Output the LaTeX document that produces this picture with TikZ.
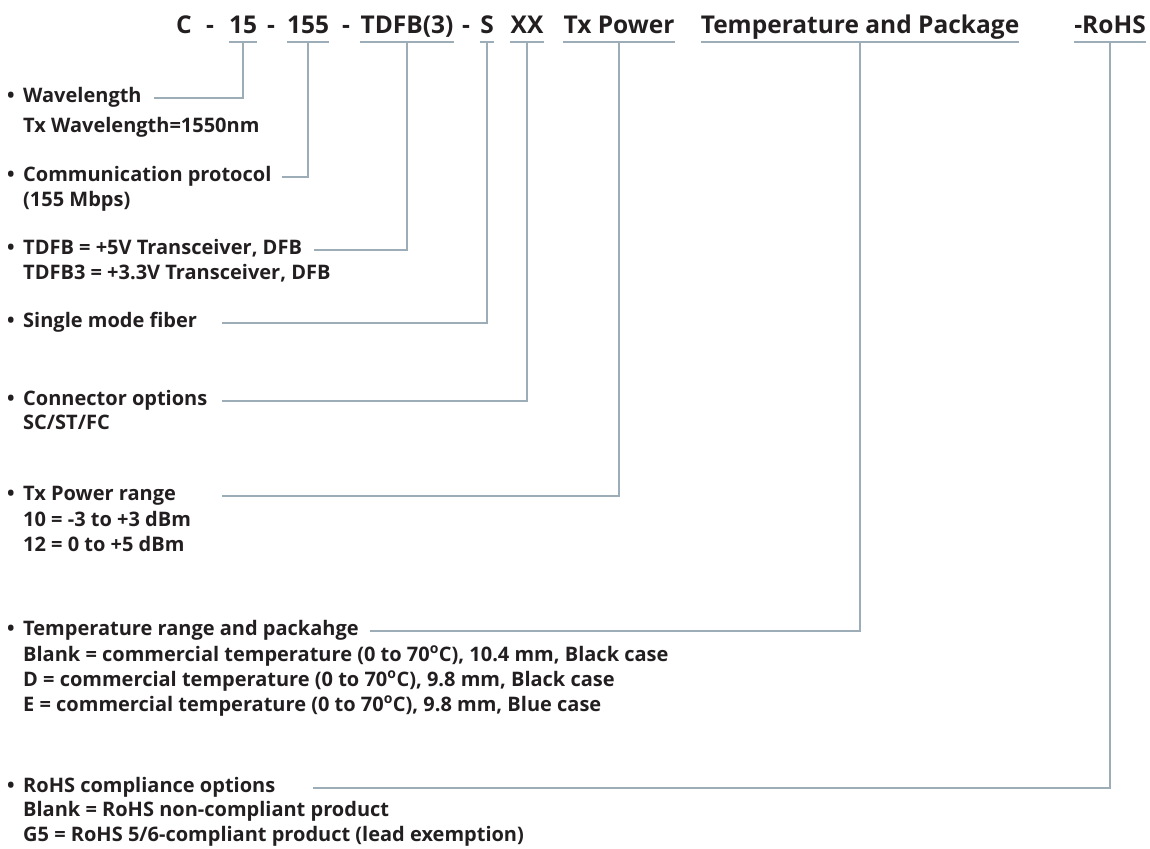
\documentclass[tikz,border=0pt]{standalone}
\usepackage{fontspec}
\setmainfont{Open Sans}
\usetikzlibrary{positioning}
\definecolor{ink}{HTML}{231F20}
\definecolor{leadgray}{HTML}{9DADB8}

\begin{document}
\begin{tikzpicture}[x=1pt,y=-1pt,
    code/.style={inner sep=0pt,anchor=base,text=ink,
        font=\fontsize{24.5}{28}\selectfont\bfseries},
    item/.style={inner sep=0pt,anchor=west,text=ink,text height=14pt,text depth=5pt,
        font=\fontsize{20}{24}\selectfont\bfseries},
    detail/.style={item},
    lead/.style={draw=leadgray,line width=1.4pt}]
\useasboundingbox (0,0) rectangle (1150,848);

% part number
\node[code] (hC) at (184,34) {C};
\node[code] (hd1) at (210,34) {-};
\node[code] (h15) at (243,34) {15};
\node[code] (hd2) at (271,34) {-};
\node[code] (h155) at (308,34) {155};
\node[code] (hd3) at (346,34) {-};
\node[code] (hTDFB) at (407,34) {TDFB(3)};
\node[code] (hd4) at (466,34) {-};
\node[code] (hS) at (487,34) {S};
\node[code] (hXX) at (527,34) {XX};
\node[code] (hTx) at (619,34) {Tx Power};
\node[code] (hTemp) at (860,34) {Temperature and Package};
\node[code] (hRoHS) at (1110,34) {-RoHS};
\coordinate (uline) at (0,42);
\coordinate (lstart) at (222,0);
\foreach \h in {h15,h155,hTDFB,hS,hXX,hTx,hTemp,hRoHS}
    \draw[lead] (\h.west |- uline) -- (\h.east |- uline);

% options
\node[item] (wave) at (7,98) {\makebox[16pt][l]{\textbullet}Wavelength};
\node[detail] (waveA) at (23,128) {Tx Wavelength=1550nm};
\node[item] (proto) at (7,177) {\makebox[16pt][l]{\textbullet}Communication protocol};
\node[detail] (protoA) at (23,202) {(155 Mbps)};
\node[item] (tdfb) at (7,250) {\makebox[16pt][l]{\textbullet}TDFB = +5V Transceiver, DFB};
\node[detail] (tdfbA) at (23,275) {TDFB3 = +3.3V Transceiver, DFB};
\node[item] (fiber) at (7,323) {\makebox[16pt][l]{\textbullet}Single mode fiber};
\node[item] (conn) at (7,401) {\makebox[16pt][l]{\textbullet}Connector options};
\node[detail] (connA) at (23,425) {SC/ST/FC};
\node[item] (txp) at (7,496) {\makebox[16pt][l]{\textbullet}Tx Power range};
\node[detail] (txpA) at (23,522) {10 = -3 to +3 dBm};
\node[detail] (txpB) at (23,547) {12 = 0 to +5 dBm};
\node[item] (temp) at (7,631) {\makebox[16pt][l]{\textbullet}Temperature range and packahge};
\node[detail] (tempA) at (23,657) {Blank = commercial temperature (0 to 70\textsuperscript{o}C), 10.4 mm, Black case};
\node[detail] (tempB) at (23,682) {D = commercial temperature (0 to 70\textsuperscript{o}C), 9.8 mm, Black case};
\node[detail] (tempC) at (23,707) {E = commercial temperature (0 to 70\textsuperscript{o}C), 9.8 mm, Blue case};
\node[item] (rohs) at (7,788) {\makebox[16pt][l]{\textbullet}RoHS compliance options};
\node[detail] (rohsA) at (23,812) {Blank = RoHS non-compliant product};
\node[detail] (rohsB) at (23,837) {G5 = RoHS 5/6-compliant product (lead exemption)};

% leaders
\draw[lead] (h15 |- uline) |- ([xshift=12pt]wave.east);
\draw[lead] (h155 |- uline) |- ([xshift=10pt]proto.east);
\draw[lead] (hTDFB |- uline) |- ([xshift=12pt]tdfb.east);
\draw[lead] (hS |- uline) |- (fiber.east -| lstart);
\draw[lead] (hXX |- uline) |- (conn.east -| lstart);
\draw[lead] (hTx |- uline) |- (txp.east -| lstart);
\draw[lead] (hTemp |- uline) |- ([xshift=11pt]temp.east);
\draw[lead] (hRoHS |- uline) |- ([xshift=38pt]rohs.east);
\end{tikzpicture}
\end{document}
